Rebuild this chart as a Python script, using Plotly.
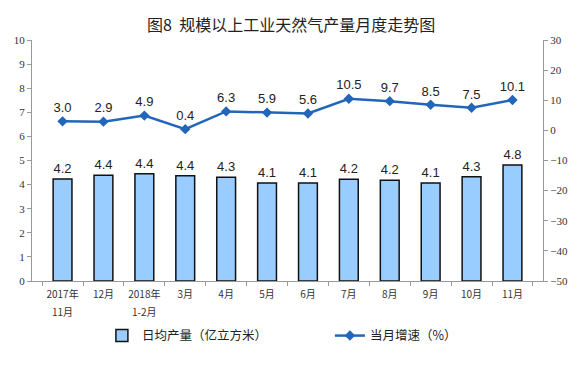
import plotly.graph_objects as go

categories = ["2017年11月", "12月", "2018年1-2月", "3月", "4月", "5月", "6月", "7月", "8月", "9月", "10月", "11月"]
tick_line1 = ["2017年", "12月", "2018年", "3月", "4月", "5月", "6月", "7月", "8月", "9月", "10月", "11月"]
tick_line2 = ["11月", "", "1-2月", "", "", "", "", "", "", "", "", ""]
daily_output = [4.23, 4.39, 4.45, 4.37, 4.31, 4.07, 4.07, 4.22, 4.18, 4.07, 4.33, 4.81]
daily_labels = ["4.2", "4.4", "4.4", "4.4", "4.3", "4.1", "4.1", "4.2", "4.2", "4.1", "4.3", "4.8"]
growth = [3.0, 2.9, 4.9, 0.4, 6.3, 5.9, 5.6, 10.5, 9.7, 8.5, 7.5, 10.1]
growth_labels = ["3.0", "2.9", "4.9", "0.4", "6.3", "5.9", "5.6", "10.5", "9.7", "8.5", "7.5", "10.1"]

fig = go.Figure()
fig.add_trace(go.Bar(
    x=categories, y=daily_output, name="日均产量（亿立方米）",
    marker=dict(color="#99CCFF", line=dict(color="#111111", width=1.5)),
    width=0.46,
    text=daily_labels, textposition="outside",
    textfont=dict(family="Liberation Sans, Arial", size=13, color="#222222"),
    cliponaxis=False,
))
fig.add_trace(go.Scatter(
    x=categories, y=growth, name="当月增速（%）", yaxis="y2",
    mode="lines+markers+text",
    line=dict(color="#2266BB", width=2.5),
    marker=dict(symbol="diamond", size=8, color="#2266BB"),
    text=growth_labels, textposition="top center",
    textfont=dict(family="Liberation Sans, Arial", size=13, color="#222222"),
    cliponaxis=False,
))

tick_font = dict(family="Noto Sans CJK SC", size=10, color="#333333")
for cat, sub in zip(categories, tick_line2):
    if sub:
        fig.add_annotation(x=cat, xref="x", y=0, yref="paper", yanchor="top",
                           yshift=-21, text=sub, showarrow=False, font=tick_font)

serif = "Liberation Serif, Times New Roman, serif"
fig.update_layout(
    width=572, height=361,
    margin=dict(l=24, r=37, t=32, b=88, autoexpand=False),
    paper_bgcolor="white", plot_bgcolor="white",
    title=dict(text="图8  规模以上工业天然气产量月度走势图", x=0.495, xanchor="center", y=0.953, yanchor="middle",
               font=dict(family="Noto Sans CJK SC", size=16, color="#222222")),
    bargap=0.5,
    xaxis=dict(
        showline=True, linecolor="#999999", linewidth=1, tickangle=0, automargin=False,
        ticks="outside", ticklen=4, tickcolor="#999999", tickson="boundaries",
        tickmode="array", tickvals=categories, ticktext=tick_line1,
        ticklabelstandoff=4,
        tickfont=tick_font,
        showgrid=False,
    ),
    yaxis=dict(
        range=[0, 10], dtick=1, showline=True, linecolor="#999999", linewidth=1, automargin=False,
        ticks="outside", ticklen=4, tickcolor="#999999",
        tickfont=dict(family=serif, size=11, color="#333333"),
        showgrid=False, zeroline=False,
    ),
    yaxis2=dict(
        range=[-50, 30], dtick=10, overlaying="y", side="right", automargin=False,
        showline=True, linecolor="#999999", linewidth=1,
        ticks="outside", ticklen=4, tickcolor="#999999",
        tickfont=dict(family=serif, size=11, color="#333333"),
        showgrid=False, zeroline=False,
    ),
    legend=dict(orientation="h", x=0.583, xanchor="center", y=-0.228, yanchor="middle",
                font=dict(family="Noto Sans CJK SC", size=12.5, color="#222222"),
                entrywidth=183, traceorder="normal"),
)

fig.write_html("out.html")
